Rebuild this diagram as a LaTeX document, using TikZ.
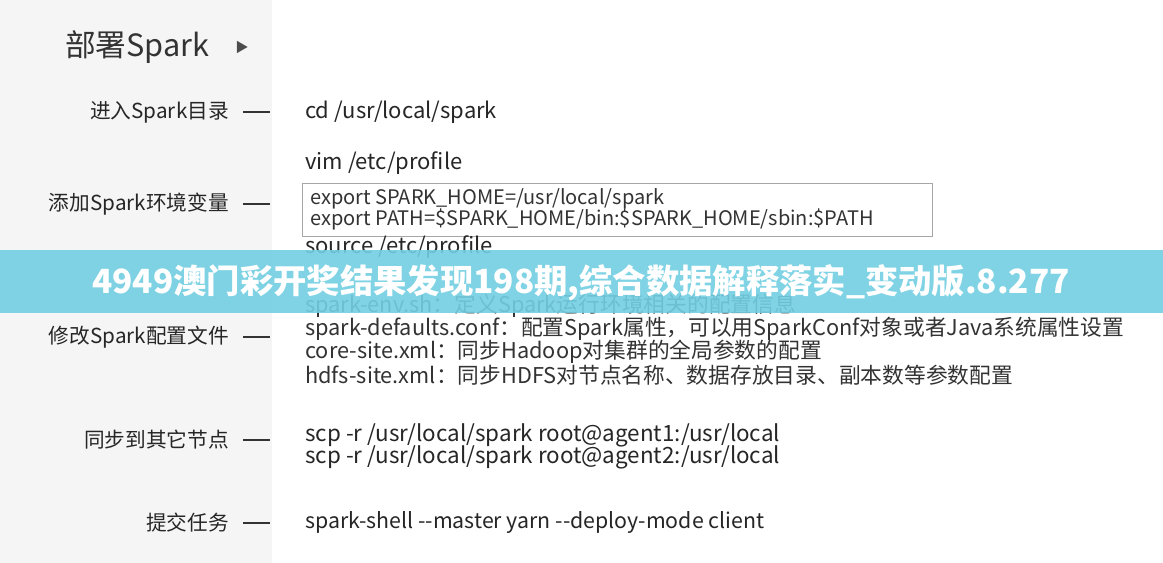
\documentclass[tikz,border=0pt]{standalone}
\usepackage{fontspec}
\setmainfont{Noto Sans CJK SC}
\begin{document}
\begin{tikzpicture}[x=0.75pt,y=-0.75pt]
\definecolor{ban}{HTML}{72CFE2}
\tikzset{lbl/.style={anchor=east,inner sep=0,font=\fontsize{15.5}{17}\selectfont,text=black!85},
 cmd/.style={anchor=west,inner sep=0,font=\fontsize{16.5}{18}\selectfont,text=black!85},
 small/.style={anchor=west,inner sep=0,font=\fontsize{15}{16}\selectfont,text=black!80},
 dashl/.style={line width=2pt,black!80}}
\useasboundingbox (0,0) rectangle (1163,563);
\fill[white] (0,0) rectangle (1163,563);
\fill[black!4] (0,0) rectangle (272,563);
\node[anchor=west,inner sep=0,font=\fontsize{23}{25}\selectfont\itshape,text=black!80] (title) at (65,47) {部署Spark};
\node[anchor=west,inner sep=0,font=\fontsize{10}{12}\selectfont,text=black!70] (tri) at (235,47) {▶};
\foreach \n/\t/\y in {a/进入Spark目录/112, b/添加Spark环境变量/204, c/修改Spark配置文件/337, d/同步到其它节点/440, e/提交任务/523}{
 \node[lbl] (\n) at (229,\y) {\t};
 \coordinate (\n1) at (243,\y); \coordinate (\n2) at (270,\y);
 \draw[dashl] (\n1) -- (\n2);
}
\node[cmd] (t1) at (305,112) {cd /usr/local/spark};
\node[cmd] (t2) at (305,163) {vim /etc/profile};
\node[draw=black!35,line width=0.8pt,minimum width=630pt*0.75,minimum height=53pt*0.75,anchor=north west,inner sep=0] (box) at (302,183) {};
\node[small] (t3) at (310,199) {export SPARK\_HOME=/usr/local/spark};
\node[small] (t4) at (310,219) {export PATH=\$SPARK\_HOME/bin:\$SPARK\_HOME/sbin:\$PATH};
\node[cmd] (t5) at (305,247) {source /etc/profile};
\node[small,font=\fontsize{16.3}{17}\selectfont] (t6) at (305,306) {spark-env.sh：定义Spark运行环境相关的配置信息};
\node[small,font=\fontsize{16.3}{17}\selectfont] (t7) at (305,329) {spark-defaults.conf：配置Spark属性，可以用SparkConf对象或者Java系统属性设置};
\node[small,font=\fontsize{16.3}{17}\selectfont] (t8) at (305,352) {core-site.xml：同步Hadoop对集群的全局参数的配置};
\node[small,font=\fontsize{16.3}{17}\selectfont] (t9) at (305,375) {hdfs-site.xml：同步HDFS对节点名称、数据存放目录、副本数等参数配置};
\node[cmd,font=\fontsize{16.8}{18}\selectfont] (t10) at (305,435) {scp -r /usr/local/spark root@agent1:/usr/local};
\node[cmd,font=\fontsize{16.8}{18}\selectfont] (t11) at (305,457) {scp -r /usr/local/spark root@agent2:/usr/local};
\node[cmd,font=\fontsize{16}{18}\selectfont] (t12) at (305,523) {spark-shell {-}{-}master yarn {-}{-}deploy-mode client};
\fill[ban,opacity=0.9] (0,250) rectangle (1163,313);
\node[inner sep=0,font=\fontsize{25}{27}\selectfont\bfseries,text=white] (bn) at (581,283) {4949澳门彩开奖结果发现198期,综合数据解释落实\_变动版.8.277};
\end{tikzpicture}
\end{document}
